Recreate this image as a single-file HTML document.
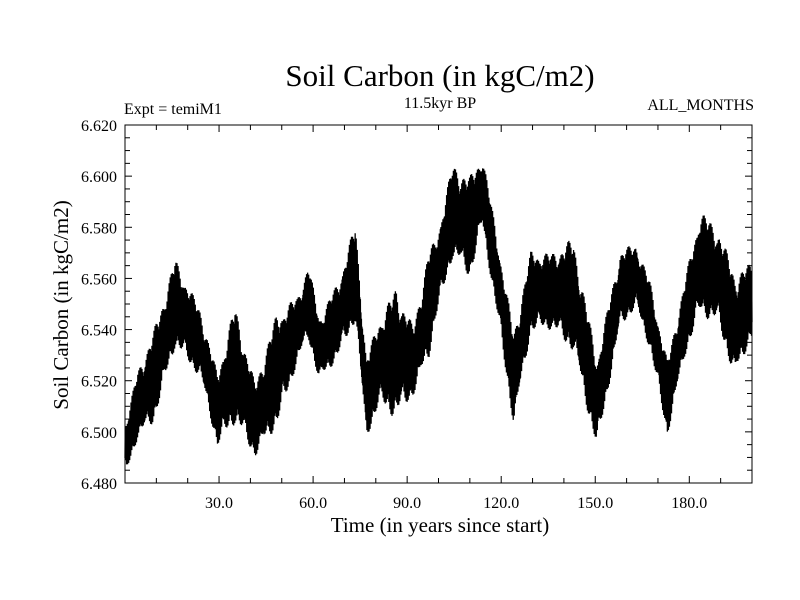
<!DOCTYPE html>
<html><head><meta charset="utf-8"><style>
body{margin:0;background:#fff}
svg{display:block;font-family:"Liberation Serif",serif}
</style></head><body>
<svg id="c" width="800" height="600">
<text x="440" y="86" font-size="31" text-anchor="middle">Soil Carbon (in kgC/m2)</text>
<text x="124" y="114" font-size="16">Expt = temiM1</text>
<text x="440" y="108" font-size="16" text-anchor="middle">11.5kyr BP</text>
<text x="754" y="110" font-size="16" text-anchor="end">ALL_MONTHS</text>
<text x="440" y="532" font-size="21" text-anchor="middle">Time (in years since start)</text>
<text transform="translate(68,305) rotate(-90)" font-size="21" text-anchor="middle">Soil Carbon (in kgC/m2)</text>
<g id="plot"></g>
</svg>
<script>
const knotTimes=[0.5,4,9,16,24,29.5,35,41.5,48.5,55,58.5,62,68,73.5,77,81,86.5,92,97,99,104.5,110,114,119,124,129.5,136,143,150.5,158,163,167.5,173,178.5,183.5,189.5,194.5,199.5];
const lowVals=[6.484,6.497,6.503,6.533,6.521,6.494,6.503,6.490,6.502,6.527,6.536,6.519,6.529,6.543,6.497,6.510,6.505,6.514,6.529,6.543,6.568,6.560,6.580,6.543,6.502,6.539,6.540,6.531,6.493,6.541,6.548,6.532,6.498,6.529,6.546,6.541,6.520,6.536];
const highVals=[6.505,6.524,6.539,6.568,6.548,6.523,6.550,6.519,6.547,6.553,6.566,6.545,6.559,6.582,6.529,6.544,6.557,6.541,6.572,6.575,6.605,6.600,6.609,6.575,6.539,6.571,6.570,6.576,6.529,6.571,6.574,6.559,6.528,6.559,6.587,6.579,6.562,6.566];
const xTicks=[30,60,90,120,150,180];
const xTickLabels=["30.0","60.0","90.0","120.0","150.0","180.0"];
const yTicks=[6.48,6.50,6.52,6.54,6.56,6.58,6.60,6.62];
const yTickLabels=["6.480","6.500","6.520","6.540","6.560","6.580","6.600","6.620"];
const X0=125,X1=752,Y0=125,Y1=483,XMIN=0,XMAX=200,YMIN=6.48,YMAX=6.62;
const sx=t=>X0+(t-XMIN)/(XMAX-XMIN)*(X1-X0);
const sy=v=>Y1-(v-YMIN)/(YMAX-YMIN)*(Y1-Y0);
const NS="http://www.w3.org/2000/svg";
const g=document.getElementById('plot');
function mk(tag,attrs){const e=document.createElementNS(NS,tag);for(const k in attrs)e.setAttribute(k,attrs[k]);g.appendChild(e);return e;}
function interp(arr,t){const c=knotTimes;if(t<=c[0])return arr[0];if(t>=c[c.length-1])return arr[arr.length-1];let i=0;while(c[i+1]<t)i++;const f=(t-c[i])/(c[i+1]-c[i]);return arr[i]+(arr[i+1]-arr[i])*f;}
let pts=[];
for(let m=0;m<=2400;m++){const t=m/12;const lo=interp(lowVals,t),hi=interp(highVals,t);
 const mid=(lo+hi)/2,half=(hi-lo)/2;
 const d=0.45+0.55*Math.abs(Math.sin(m*2.39)*Math.cos(m*0.71));
 const v=m%2?mid+half*d:mid-half*d;
 pts.push(sx(t).toFixed(2)+','+sy(v).toFixed(2));}
const line=mk('polyline',{points:pts.join(' '),fill:'none',stroke:'#000','stroke-width':1.3});


const fr=mk('rect',{x:X0,y:Y0,width:X1-X0,height:Y1-Y0,fill:'none',stroke:'#000','stroke-width':1});


for(let t=10;t<200;t+=10){const maj=t%30===0;const L=maj?7:5;
 mk('line',{x1:sx(t),x2:sx(t),y1:Y1,y2:Y1-L,stroke:'#000'});
 mk('line',{x1:sx(t),x2:sx(t),y1:Y0,y2:Y0+L,stroke:'#000'});}
xTicks.forEach((t,i)=>{const e=mk('text',{x:sx(t),y:Y1+25,'font-size':16,'text-anchor':'middle'});e.textContent=xTickLabels[i];
 
 });
for(let k=1;k<28;k++){const v=YMIN+k*0.005;const maj=k%4===0;const L=maj?7:5;
 mk('line',{x1:X0,x2:X0+L,y1:sy(v),y2:sy(v),stroke:'#000'});
 mk('line',{x1:X1,x2:X1-L,y1:sy(v),y2:sy(v),stroke:'#000'});}
yTicks.forEach((v,i)=>{const e=mk('text',{x:X0-8,y:sy(v)+6,'font-size':16,'text-anchor':'end'});e.textContent=yTickLabels[i];
 
 });
</script>
</body></html>
